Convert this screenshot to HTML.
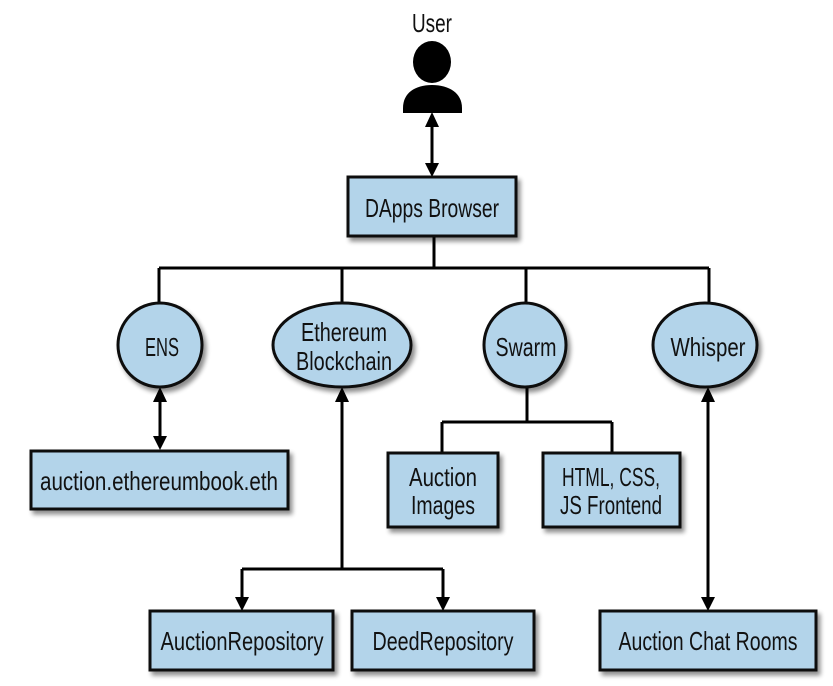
<!DOCTYPE html>
<html><head><meta charset="utf-8"><style>
html,body{margin:0;padding:0;background:#fff;}
svg{display:block}
text{font-family:"Liberation Sans Narrow","Liberation Sans",sans-serif;font-size:26px;fill:#111;text-anchor:middle}
</style></head><body>
<svg width="833" height="686" viewBox="0 0 833 686" xmlns="http://www.w3.org/2000/svg">
<defs>
<filter id="sh" x="-20%" y="-20%" width="150%" height="160%">
<feGaussianBlur in="SourceAlpha" stdDeviation="2.5"/>
<feOffset dx="3" dy="4" result="b"/>
<feComponentTransfer><feFuncA type="linear" slope="0.45"/></feComponentTransfer>
<feMerge><feMergeNode/><feMergeNode in="SourceGraphic"/></feMerge>
</filter>
</defs>
<g stroke="#000" stroke-width="3" fill="none">
<path d="M432,125 L432,164"/>
<path d="M425,127 L432,112 L439,127 Z M425,163 L432,177 L439,163 Z" fill="#000" stroke="none"/>
<path d="M434,236 L434,268 M159,268 L709,268 M159,268 L159,303 M342,268 L342,303 M526,268 L526,303 M709,268 L709,303"/>
<path d="M160,400 L160,437"/>
<path d="M153,402 L160,387 L167,402 Z M153,436 L160,450 L167,436 Z" fill="#000" stroke="none"/>
<path d="M342,400 L342,569 M242,569 L443,569 M242,569 L242,598 M443,569 L443,598"/>
<path d="M335,402 L342,387 L349,402 Z M235,597 L242,611 L249,597 Z M436,597 L443,611 L450,597 Z" fill="#000" stroke="none"/>
<path d="M527,387 L527,422 M442,422 L612,422 M442,422 L442,453 M612,422 L612,453"/>
<path d="M708,400 L708,598"/>
<path d="M701,402 L708,387 L715,402 Z M701,597 L708,611 L715,597 Z" fill="#000" stroke="none"/>
</g>
<ellipse cx="432" cy="62" rx="19" ry="21" fill="#000"/>
<path d="M403,113 L403,108 C403,93 415,85 432,85 C449,85 462,93 462,108 L462,113 Z" fill="#000"/>
<text x="432" y="32" textLength="40" lengthAdjust="spacingAndGlyphs">User</text>
<g fill="#b3d4ea" stroke="#111" stroke-width="3" filter="url(#sh)">
<rect x="348" y="177" width="168" height="59"/>
<ellipse cx="160" cy="345" rx="42" ry="42"/>
<ellipse cx="342" cy="345" rx="69" ry="42"/>
<ellipse cx="525" cy="345" rx="41" ry="42"/>
<ellipse cx="705" cy="345" rx="52" ry="42"/>
<rect x="31" y="451" width="257" height="58"/>
<rect x="388" y="453" width="110" height="74"/>
<rect x="543" y="453" width="137" height="74"/>
<rect x="150" y="611" width="183" height="59"/>
<rect x="352" y="611" width="182" height="59"/>
<rect x="600" y="611" width="216" height="59"/>
</g>
<text x="432" y="217" textLength="134" lengthAdjust="spacingAndGlyphs">DApps Browser</text>
<text x="162" y="356" textLength="34" lengthAdjust="spacingAndGlyphs">ENS</text>
<text x="344" y="341" textLength="86" lengthAdjust="spacingAndGlyphs">Ethereum</text>
<text x="344" y="370" textLength="96" lengthAdjust="spacingAndGlyphs">Blockchain</text>
<text x="526" y="356" textLength="61" lengthAdjust="spacingAndGlyphs">Swarm</text>
<text x="708" y="356" textLength="75" lengthAdjust="spacingAndGlyphs">Whisper</text>
<text x="159" y="490" textLength="238" lengthAdjust="spacingAndGlyphs">auction.ethereumbook.eth</text>
<text x="443" y="486" textLength="68" lengthAdjust="spacingAndGlyphs">Auction</text>
<text x="443" y="514" textLength="64" lengthAdjust="spacingAndGlyphs">Images</text>
<text x="611" y="486" textLength="98" lengthAdjust="spacingAndGlyphs">HTML, CSS,</text>
<text x="611" y="514" textLength="102" lengthAdjust="spacingAndGlyphs">JS Frontend</text>
<text x="242" y="650" textLength="163" lengthAdjust="spacingAndGlyphs">AuctionRepository</text>
<text x="443" y="650" textLength="141" lengthAdjust="spacingAndGlyphs">DeedRepository</text>
<text x="708" y="650" textLength="179" lengthAdjust="spacingAndGlyphs">Auction Chat Rooms</text>
</svg>
</body></html>
